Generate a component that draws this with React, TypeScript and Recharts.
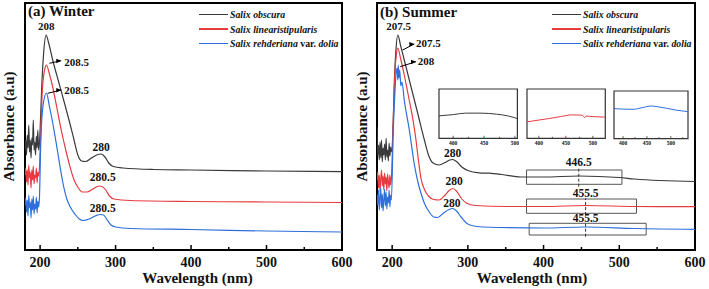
import React from 'react'
import {
  LineChart, Line, XAxis, YAxis, ReferenceArea, ReferenceLine, ReferenceDot, Label,
} from 'recharts'

// UV-Vis absorbance spectra of three willow species, winter vs summer extracts

const SPECIES = ['Salix obscura', 'Salix linearistipularis', 'Salix rehderiana var. dolia']
const WAVE_TICKS = [200, 250, 300, 350, 400, 450, 500, 550, 600]
const NOISE_NM = [180, 181, 182, 183, 184, 185, 186, 187, 188, 189, 190, 191, 192, 193, 194, 195, 196, 197, 198, 199]

// winter
const W_OBSCURA_NOISE = [1.0, 1.1, 0.95, 1.15, 1.02, 1.25, 0.98, 1.1, 0.92, 1.12, 1.05, 1.3, 1.0, 1.08, 0.95, 1.14, 1.02, 1.2, 1.0, 1.05]
const W_OBSCURA = [
  [200, 1.2], [202, 1.6], [205, 2.0], [208, 2.15], [211, 2.08], [216.7, 1.9], [225, 1.67], [233, 1.45],
  [240, 1.25], [245, 1.1], [250, 0.95], [255, 0.89], [260, 0.885], [268, 0.92], [275, 0.95], [281, 0.96],
  [286, 0.93], [291, 0.87], [297, 0.835], [310, 0.82], [350, 0.805], [400, 0.8], [500, 0.79], [600, 0.783],
]
const W_LINEAR_NOISE = [0.75, 0.82, 0.68, 0.8, 0.65, 0.85, 0.72, 0.78, 0.62, 0.8, 0.7, 0.84, 0.66, 0.75, 0.72, 0.82, 0.67, 0.78, 0.74, 0.8]
const W_LINEAR = [
  [200.5, 1.1], [203, 1.6], [206, 1.8], [208.5, 1.85], [212, 1.77], [216.7, 1.63], [222, 1.43], [228, 1.2],
  [234, 1.0], [239, 0.85], [245, 0.7], [250, 0.63], [256, 0.58], [262, 0.58], [270, 0.61], [278, 0.64],
  [282, 0.635], [287, 0.6], [292, 0.54], [298, 0.51], [320, 0.495], [400, 0.485], [500, 0.48], [600, 0.475],
]
const W_REHD_NOISE = [0.45, 0.52, 0.38, 0.5, 0.34, 0.55, 0.42, 0.48, 0.32, 0.51, 0.4, 0.54, 0.36, 0.46, 0.41, 0.53, 0.37, 0.49, 0.43, 0.5]
const W_REHD = [
  [201, 1.1], [204, 1.45], [208.5, 1.57], [212, 1.45], [216, 1.3], [220, 1.13], [225, 0.9], [230, 0.68],
  [235, 0.52], [240, 0.43], [246, 0.36], [252, 0.31], [257, 0.295], [265, 0.31], [273, 0.34], [280, 0.355],
  [284, 0.35], [289, 0.3], [294, 0.25], [300, 0.23], [320, 0.215], [400, 0.205], [500, 0.19], [600, 0.18],
]
const W_PEAKS = ['208', '208.5', '208.5']
const W_BANDS = ['280', '280.5', '280.5']

// summer
const S_OBSCURA_NOISE = [1.23, 0.95, 1.05, 0.9, 1.08, 0.92, 1.1, 0.88, 1.02, 0.95, 1.06, 0.9, 1.12, 0.93, 1.0, 0.89, 1.07, 0.94, 1.03, 0.98]
const S_OBSCURA = [
  [201.5, 1.3], [203, 1.7], [205, 2.0], [207.5, 2.15], [211, 2.05], [216, 1.9], [225, 1.63], [235, 1.33],
  [242.6, 1.1], [248, 0.95], [254, 0.87], [262, 0.85], [270, 0.875], [276, 0.9], [280, 0.905], [285, 0.885],
  [292, 0.83], [300, 0.795], [315, 0.772], [328, 0.768], [345, 0.755], [370, 0.73], [400, 0.73], [446.5, 0.74],
  [500, 0.725], [520, 0.71], [600, 0.685],
]
const S_LINEAR_NOISE = [0.7, 0.78, 0.62, 0.75, 0.58, 0.72, 0.8, 0.64, 0.74, 0.6, 0.77, 0.66, 0.73, 0.59, 0.76, 0.68, 0.62, 0.75, 0.65, 0.72]
const S_LINEAR = [
  [201.5, 1.3], [203.5, 1.75], [205.5, 1.95], [207.5, 2.02], [211, 1.92], [216, 1.75], [222, 1.52], [228, 1.28],
  [231.5, 1.1], [235, 0.88], [238, 0.72], [243, 0.6], [248, 0.54], [255, 0.505], [262, 0.5], [270, 0.55],
  [276, 0.6], [280, 0.615], [285, 0.59], [291, 0.52], [298, 0.47], [310, 0.445], [350, 0.435], [400, 0.435],
  [455.5, 0.445], [520, 0.435], [600, 0.433],
]
const S_REHD_NOISE = [0.55, 0.45, 0.6, 0.4, 0.52, 0.62, 0.42, 0.56, 0.39, 0.5, 0.61, 0.44, 0.58, 0.41, 0.53, 0.47, 0.6, 0.43, 0.55, 0.5]
const S_REHD = [
  [201.5, 1.2], [203.5, 1.55], [205, 1.75], [206.5, 1.82], [207.5, 1.7], [208, 1.85], [209, 1.72], [210, 1.8],
  [211.5, 1.64], [213, 1.68], [216, 1.5], [222.7, 1.2], [229, 0.87], [234, 0.68], [238, 0.57], [243, 0.46],
  [249, 0.38], [255, 0.33], [260, 0.325], [268, 0.37], [275, 0.405], [280, 0.415], [285, 0.39], [291, 0.33],
  [298, 0.27], [305, 0.245], [320, 0.23], [400, 0.22], [455.5, 0.23], [520, 0.215], [600, 0.207],
]
const S_PEAKS = ['207.5', '207.5', '208']
const S_BANDS = ['280', '280', '280']
const S_VIS_PEAKS = [446.5, 455.5, 455.5]

// zoomed 380-540 nm region (inset panels)
const INSET_OBSCURA = [[377, 0.455], [400, 0.48], [420, 0.51], [445, 0.51], [470, 0.49], [490, 0.45], [504, 0.4]]
const INSET_LINEAR = [[378, 0.333], [400, 0.37], [418, 0.4], [440, 0.44], [461, 0.475], [480, 0.47], [485, 0.42], [487, 0.45], [500, 0.44], [523, 0.43]]
const INSET_REHD = [[381, 0.63], [400, 0.62], [421, 0.615], [440, 0.65], [459, 0.685], [475, 0.665], [491, 0.637], [510, 0.6], [536, 0.567]]
const INSET_DOMAINS = [[377, 504], [378, 523], [381, 536]]
const INSET_TICKS = [400, 425, 450, 475, 500, 525]

// ---- styling / layout ----
const FONT = '"Liberation Serif", "DejaVu Serif", "Times New Roman", serif'
const COLORS = ['#3a3a3a', '#e63b3f', '#2e6fd9']
const A_MAX = 2.47
const INK = '#111'

type Pt = { nm: number; a: number }
const withNoise = (noise: number[], rows: number[][]): Pt[] => [
  ...NOISE_NM.map((nm, i) => ({ nm, a: noise[i] })),
  ...rows.map(([nm, a]) => ({ nm, a })),
]
const pts = (rows: number[][]): Pt[] => rows.map(([nm, a]) => ({ nm, a }))

const WINTER = [withNoise(W_OBSCURA_NOISE, W_OBSCURA), withNoise(W_LINEAR_NOISE, W_LINEAR), withNoise(W_REHD_NOISE, W_REHD)]
const SUMMER = [withNoise(S_OBSCURA_NOISE, S_OBSCURA), withNoise(S_LINEAR_NOISE, S_LINEAR), withNoise(S_REHD_NOISE, S_REHD)]
const INSETS = [pts(INSET_OBSCURA), pts(INSET_LINEAR), pts(INSET_REHD)]

// label anchors in (nm, absorbance): first label centred over the peak, the rest sit right of an arrow
const W_PEAK_AT = [[208, 2.235], [232, 1.883], [232, 1.6]]
const W_ARROWS = [null, [[212.3, 1.867], [228, 1.893]], [[210, 1.567], [228, 1.6]]]
const W_BAND_AT = [[281, 1.033], [283, 0.727], [283, 0.417]]
const S_PEAK_AT = [[208.5, 2.235], [231.5, 2.067], [233.8, 1.893]]
const S_ARROWS = [null, [[213.8, 2.0], [229.3, 2.06]], [[210.6, 1.833], [231.5, 1.883]]]
const S_BAND_AT = [[279.8, 0.967], [282, 0.693], [279, 0.473]]
const S_BOXES = [[377.5, 503.5, 0.657, 0.8], [377.5, 522.7, 0.367, 0.51], [381, 535.5, 0.15, 0.267]]
const S_DASHES = [[0.633, 0.833], [0.35, 0.517], [0.133, 0.267]]
const S_VIS_LABEL_Y = [0.883, 0.567, 0.317]
const INSET_BOXES = [
  { left: 439.3, top: 89, w: 78.4, h: 49.3 },
  { left: 527, top: 89, w: 78.3, h: 49.3 },
  { left: 613.7, top: 90.7, w: 74, h: 47.6 },
]

function WaveTick({ x, y, payload }: any) {
  const major = payload.value % 100 === 0
  return (
    <g>
      <line x1={x} x2={x} y1={y} y2={y - (major ? 5 : 3)} stroke="#000" strokeWidth={1.5} />
      {major && (
        <text x={x} y={y + 17} textAnchor="middle" fontSize={14} fontWeight="bold" fill={INK}>
          {payload.value}
        </text>
      )}
    </g>
  )
}

function InsetTick({ x, y, payload }: any) {
  const major = payload.value % 50 === 0
  return (
    <g>
      <line x1={x} x2={x} y1={y} y2={y - (major ? 2.5 : 1.5)} stroke="#333" strokeWidth={0.8} />
      {major && (
        <text x={x} y={y + 6.5} textAnchor="middle" fontSize={5.5} fontWeight="bold" fill={INK}>
          {payload.value}
        </text>
      )}
    </g>
  )
}

const textAt = (t: string, anchor: 'start' | 'middle', size = 11) => (p: any) => (
  <text x={p.cx} y={p.cy} dy="0.35em" textAnchor={anchor} fontSize={size} fontWeight="bold" fill={INK}>{t}</text>
)

const arrowHead = (p: any) => (
  <polygon points={`${p.cx},${p.cy} ${p.cx - 5},${p.cy - 2} ${p.cx - 5},${p.cy + 2.6}`} fill="#000" />
)

function peakMarks(texts: string[], at: number[][], arrows: (number[][] | null)[], bands: string[], bandAt: number[][]) {
  const out: React.ReactNode[] = []
  texts.forEach((t, i) => {
    out.push(
      <ReferenceDot key={`p${i}`} x={at[i][0]} y={at[i][1]} r={0} ifOverflow="visible"
        shape={textAt(t, i === 0 ? 'middle' : 'start')} />,
    )
    const ar = arrows[i]
    if (ar) {
      out.push(
        <ReferenceLine key={`l${i}`} segment={[{ x: ar[0][0], y: ar[0][1] }, { x: ar[1][0], y: ar[1][1] }]}
          stroke="#000" strokeWidth={1} ifOverflow="visible" />,
        <ReferenceDot key={`h${i}`} x={ar[1][0]} y={ar[1][1]} r={0} ifOverflow="visible" shape={arrowHead} />,
      )
    }
  })
  bands.forEach((t, i) => {
    out.push(
      <ReferenceDot key={`b${i}`} x={bandAt[i][0]} y={bandAt[i][1]} r={0} ifOverflow="visible"
        shape={textAt(t, 'middle', 11.5)} />,
    )
  })
  return out
}

function Panel({ width, yWidth, right, series, xLabelDx, yLabelDx, children }: any) {
  return (
    <LineChart width={width} height={289} margin={{ top: 3, right, bottom: 0, left: 0 }}>
      <XAxis type="number" dataKey="nm" domain={[180, 600]} ticks={WAVE_TICKS} interval={0} allowDataOverflow
        height={39} axisLine={false} tickLine={false} tickSize={0} tickMargin={0} tick={(p: any) => <WaveTick {...p} />}>
        <Label value="Wavelength (nm)" position="insideBottom" offset={6} dx={xLabelDx}
          fontSize={15} fontWeight="bold" fill={INK} />
      </XAxis>
      <YAxis type="number" domain={[0, A_MAX]} width={yWidth} tick={false} axisLine={false} tickLine={false}>
        <Label value="Absorbance (a.u)" angle={-90} position="center" dx={yLabelDx}
          fontSize={15} fontWeight="bold" fill={INK} />
      </YAxis>
      {series.map((d: Pt[], i: number) => (
        <Line key={i} data={d} dataKey="a" type="monotone" stroke={COLORS[i]} strokeWidth={1.2}
          dot={false} isAnimationActive={false} />
      ))}
      <ReferenceArea x1={180} x2={600} y1={0} y2={A_MAX} fill="none" stroke="#000" strokeWidth={2} />
      {children}
    </LineChart>
  )
}

function LegendBlock({ left }: { left: number }) {
  return (
    <div style={{ position: 'absolute', left, top: 7, fontSize: 9.8, fontWeight: 'bold' }}>
      {SPECIES.map((s, i) => {
        const parts = s.split(' var. ')
        return (
          <div key={s} style={{ display: 'flex', alignItems: 'center', height: 14.7 }}>
            <span style={{ width: 29, height: 1.5, background: COLORS[i], marginRight: 2 }} />
            <span style={{ fontStyle: 'italic', whiteSpace: 'nowrap' }}>
              {parts[0]}
              {parts[1] && (<><span style={{ fontStyle: 'normal' }}> var. </span>{parts[1]}</>)}
            </span>
          </div>
        )
      })}
    </div>
  )
}

function Inset({ idx }: { idx: number }) {
  const b = INSET_BOXES[idx]
  const [d0, d1] = INSET_DOMAINS[idx]
  return (
    <div style={{ position: 'absolute', left: b.left - 1, top: b.top - 1 }}>
      <LineChart width={b.w + 2} height={b.h + 11} margin={{ top: 1, right: 1, bottom: 0, left: 1 }}>
        <XAxis type="number" dataKey="nm" domain={[d0, d1]} ticks={INSET_TICKS.filter(t => t <= d1)} interval={0}
          allowDataOverflow height={10} axisLine={false} tickLine={false} tickSize={0} tickMargin={0}
          tick={(p: any) => <InsetTick {...p} />} />
        <YAxis type="number" domain={[0, 1]} hide />
        <Line data={INSETS[idx]} dataKey="a" type="monotone" stroke={COLORS[idx]} strokeWidth={1}
          dot={false} isAnimationActive={false} />
        <ReferenceArea x1={d0} x2={d1} y1={0} y2={1} fill="none" stroke="#333" strokeWidth={1.2} />
      </LineChart>
    </div>
  )
}

export default function App() {
  const summerExtras = [
    ...peakMarks(S_PEAKS, S_PEAK_AT, S_ARROWS, S_BANDS, S_BAND_AT),
    ...S_BOXES.map((bx, i) => (
      <ReferenceArea key={`box${i}`} x1={bx[0]} x2={bx[1]} y1={bx[2]} y2={bx[3]} fill="none" stroke="#555" strokeWidth={1} />
    )),
    ...S_VIS_PEAKS.map((nm, i) => (
      <ReferenceLine key={`dash${i}`} segment={[{ x: nm, y: S_DASHES[i][0] }, { x: nm, y: S_DASHES[i][1] }]}
        stroke="#333" strokeDasharray="3 2" strokeWidth={1} />
    )),
    ...S_VIS_PEAKS.map((nm, i) => (
      <ReferenceDot key={`vis${i}`} x={nm} y={S_VIS_LABEL_Y[i]} r={0} ifOverflow="visible"
        shape={textAt(String(nm), 'middle', 11.5)} />
    )),
  ]

  return (
    <div style={{ position: 'absolute', left: 0, top: 0, width: 709, height: 289, fontFamily: FONT, color: INK, background: '#fff' }}>
      <div style={{ position: 'absolute', left: 0, top: 0 }}>
        <Panel width={355} yWidth={25} right={13} series={WINTER} xLabelDx={14} yLabelDx={-3.5}>
          {peakMarks(W_PEAKS, W_PEAK_AT, W_ARROWS, W_BANDS, W_BAND_AT)}
        </Panel>
      </div>
      <div style={{ position: 'absolute', left: 355, top: 0 }}>
        <Panel width={354} yWidth={22} right={14} series={SUMMER} xLabelDx={-4} yLabelDx={-4}>
          {summerExtras}
        </Panel>
      </div>
      <div style={{ position: 'absolute', left: 28, top: 4, fontSize: 15, fontWeight: 'bold', lineHeight: 1 }}>(a) Winter</div>
      <div style={{ position: 'absolute', left: 380, top: 4.5, fontSize: 15, fontWeight: 'bold', lineHeight: 1 }}>(b) Summer</div>
      <LegendBlock left={199} />
      <LegendBlock left={552} />
      {[0, 1, 2].map(i => <Inset key={i} idx={i} />)}
    </div>
  )
}
